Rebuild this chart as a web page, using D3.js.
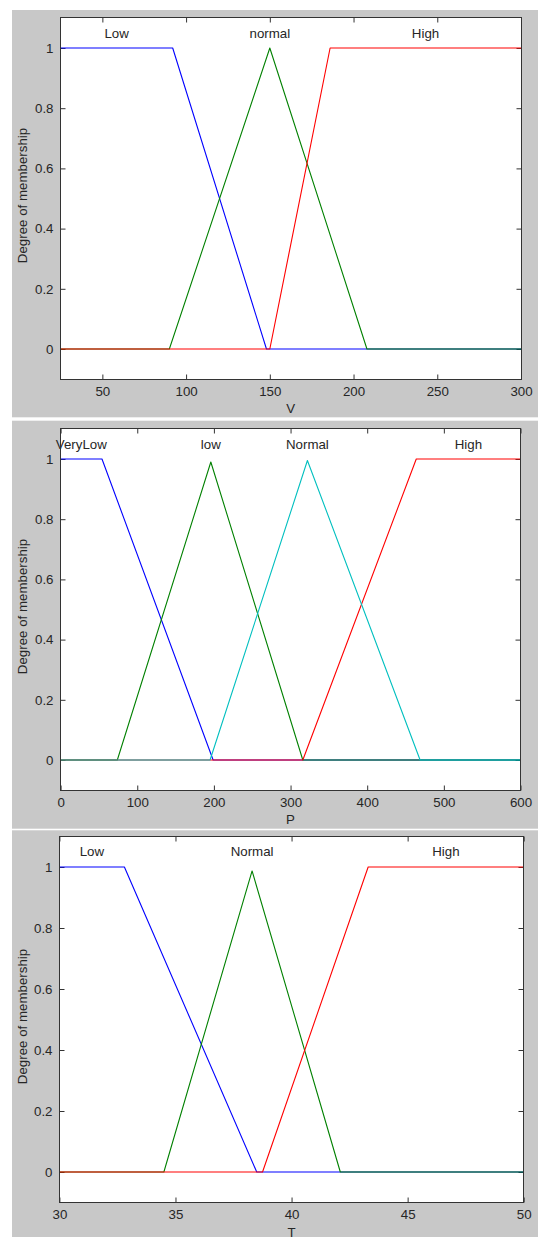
<!DOCTYPE html>
<html><head><meta charset="utf-8">
<script src="https://cdn.jsdelivr.net/npm/d3@7"></script>
<style>
body{margin:0;background:#fff}
svg{display:block}
text{font-family:"Liberation Sans",Arial,sans-serif;fill:#262626}
</style>
</head><body>
<svg id="c" width="538" height="1237"></svg>
<script>
// ---------- shared ----------
const yTicks = [0, 0.2, 0.4, 0.6, 0.8, 1];
const yDomain = [-0.1, 1.1];
const yLabel = "Degree of membership";

// ---------- panel 1 : V ----------
const vDomain = [25, 300];
const vTicks = [50, 100, 150, 200, 250, 300];
const vNames = ["Low", "normal", "High"];
const vLowX = [25, 92, 148, 300],        vLowY = [1, 1, 0, 0];
const vNormalX = [25, 90, 150, 208, 300], vNormalY = [0, 0, 1, 0, 0];
const vHighX = [25, 150, 186, 300],       vHighY = [0, 0, 1, 1];

// ---------- panel 2 : P ----------
const pDomain = [0, 600];
const pTicks = [0, 100, 200, 300, 400, 500, 600];
const pNames = ["VeryLow", "low", "Normal", "High"];
const pVeryLowX = [0, 54, 199, 600],      pVeryLowY = [1, 1, 0, 0];
const pLowX = [0, 74, 196, 316, 600],     pLowY = [0, 0, 0.99, 0, 0];
const pNormalX = [0, 195, 322, 469, 600], pNormalY = [0, 0, 0.995, 0, 0];
const pHighX = [0, 316, 464, 600],        pHighY = [0, 0, 1, 1];

// ---------- panel 3 : T ----------
const tDomain = [30, 50];
const tTicks = [30, 35, 40, 45, 50];
const tNames = ["Low", "Normal", "High"];
const tLowX = [30, 32.8, 38.5, 50],          tLowY = [1, 1, 0, 0];
const tNormalX = [30, 34.5, 38.3, 42.1, 50], tNormalY = [0, 0, 0.987, 0, 0];
const tHighX = [30, 38.75, 43.3, 50],        tHighY = [0, 0, 1, 1];

const BLUE = "#0000ff", GREEN = "#008000", RED = "#ff0000", CYAN = "#00bfbf";

const panels = [
  { bg: [12, 10, 538, 417.3], frame: [60.5, 17.9, 521, 379.1], xDomain: vDomain, xTicks: vTicks, xLabel: "V",
    mfs: [
      { name: vNames[0], xs: vLowX, ys: vLowY, color: BLUE },
      { name: vNames[1], xs: vNormalX, ys: vNormalY, color: GREEN },
      { name: vNames[2], xs: vHighX, ys: vHighY, color: RED }
    ], order: [0, 1, 2] },
  { bg: [12, 420.7, 538, 828.7], frame: [60.6, 428.9, 520.5, 790.1], xDomain: pDomain, xTicks: pTicks, xLabel: "P",
    mfs: [
      { name: pNames[0], xs: pVeryLowX, ys: pVeryLowY, color: BLUE },
      { name: pNames[1], xs: pLowX, ys: pLowY, color: GREEN },
      { name: pNames[2], xs: pNormalX, ys: pNormalY, color: CYAN },
      { name: pNames[3], xs: pHighX, ys: pHighY, color: RED }
    ], order: [0, 1, 3, 2] },
  { bg: [12, 830.3, 538, 1237], frame: [59.4, 836.5, 523.7, 1202.5], xDomain: tDomain, xTicks: tTicks, xLabel: "T",
    mfs: [
      { name: tNames[0], xs: tLowX, ys: tLowY, color: BLUE },
      { name: tNames[1], xs: tNormalX, ys: tNormalY, color: GREEN },
      { name: tNames[2], xs: tHighX, ys: tHighY, color: RED }
    ], order: [0, 1, 2] }
];

const svg = d3.select("#c");
const FS = 13.3;
const px = v => Math.round(v - 0.5) + 0.5;

panels.forEach(p => {
  const [bx0, by0, bx1, by1] = p.bg;
  const [fx0, fy0, fx1, fy1] = p.frame;
  svg.append("rect").attr("x", bx0).attr("y", by0).attr("width", bx1 - bx0).attr("height", by1 - by0)
    .attr("fill", "#c8c8c8");
  svg.append("rect").attr("x", fx0).attr("y", fy0).attr("width", fx1 - fx0).attr("height", fy1 - fy0)
    .attr("fill", "#fff");

  const x = d3.scaleLinear().domain(p.xDomain).range([fx0, fx1]);
  const y = d3.scaleLinear().domain(yDomain).range([fy1, fy0]);

  const g = svg.append("g");
  const fmt = d3.format("~g");

  const axB = g.append("g").attr("transform", `translate(0,${px(fy1)})`)
    .call(d3.axisBottom(x).tickValues(p.xTicks).tickFormat(fmt).tickSizeInner(-5).tickSizeOuter(0).tickPadding(7.5));
  const axT = g.append("g").attr("transform", `translate(0,${px(fy0)})`)
    .call(d3.axisTop(x).tickValues(p.xTicks).tickFormat("").tickSizeInner(-5).tickSizeOuter(0));
  const axL = g.append("g").attr("transform", `translate(${px(fx0)},0)`)
    .call(d3.axisLeft(y).tickValues(yTicks).tickFormat(fmt).tickSizeInner(-5).tickSizeOuter(0).tickPadding(7));
  const axR = g.append("g").attr("transform", `translate(${px(fx1)},0)`)
    .call(d3.axisRight(y).tickValues(yTicks).tickFormat("").tickSizeInner(-5).tickSizeOuter(0));
  [axB, axT, axL, axR].forEach(a => {
    a.select(".domain").remove();
    a.selectAll("line").attr("stroke", "#333");
    a.selectAll("text").attr("font-size", FS).attr("fill", "#262626")
      .attr("font-family", '"Liberation Sans",Arial,sans-serif');
  });

  // membership functions
  const line = d3.line().x(d => x(d[0])).y(d => y(d[1]));
  p.order.forEach(i => {
    const m = p.mfs[i];
    const pts = m.xs.map((xv, k) => [xv, m.ys[k]]);
    g.append("path").attr("d", line(pts)).attr("fill", "none")
      .attr("stroke", m.color).attr("stroke-width", 1.1).attr("stroke-linejoin", "round");
  });

  // MF names at the centre of each maximum region
  p.mfs.forEach(m => {
    const mx = d3.max(m.ys);
    const xsMax = m.xs.filter((xv, k) => m.ys[k] === mx);
    const cx = (d3.min(xsMax) + d3.max(xsMax)) / 2;
    g.append("text").attr("x", x(cx)).attr("y", y(1.05)).attr("dy", "0.35em")
      .attr("text-anchor", "middle").attr("font-size", FS).text(m.name);
  });

  // frame
  g.append("rect").attr("x", px(fx0)).attr("y", px(fy0)).attr("width", px(fx1) - px(fx0)).attr("height", px(fy1) - px(fy0))
    .attr("fill", "none").attr("stroke", "#333").attr("stroke-width", 1);

  // axis labels
  g.append("text").attr("x", (fx0 + fx1) / 2).attr("y", fy1 + 29.5).attr("dy", "0.35em")
    .attr("text-anchor", "middle").attr("font-size", FS).text(p.xLabel);
  g.append("text").attr("transform", `translate(22,${(fy0 + fy1) / 2 - 3}) rotate(-90)`).attr("dy", "0.35em")
    .attr("text-anchor", "middle").attr("font-size", FS).text(yLabel);
});
</script>
</body></html>
